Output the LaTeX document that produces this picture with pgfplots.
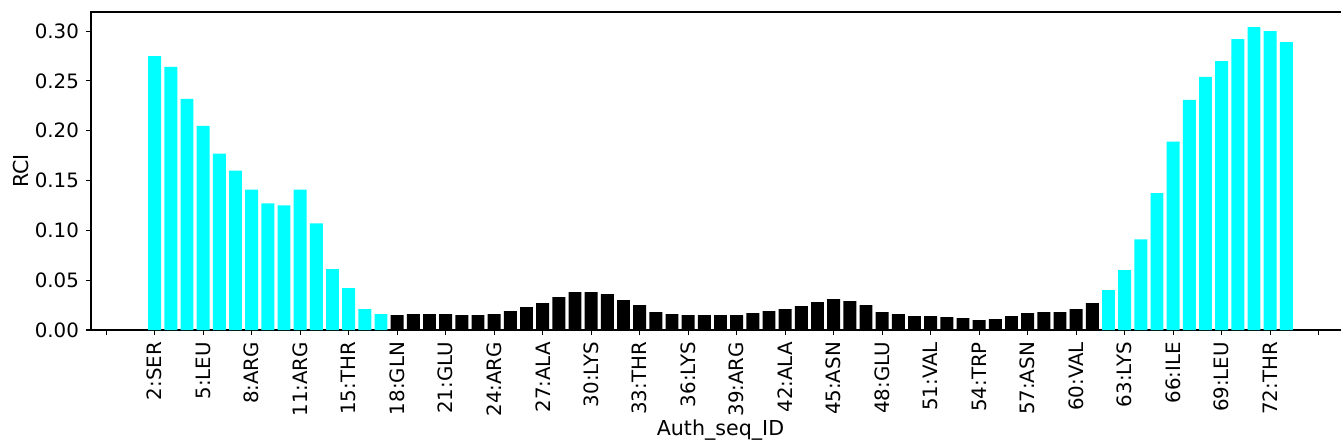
\documentclass[border=0pt]{standalone}
\usepackage{fontspec}
\setmainfont{DejaVu Sans}
\usepackage{pgfplots}
\pgfplotsset{compat=1.18}
\definecolor{aquacyan}{RGB}{0,255,255}
\begin{document}
\begin{tikzpicture}
\begin{axis}[
  at={(0,0)}, anchor=south west,
  scale only axis, width=629.5pt, height=159pt,
  xmin=-3.94, xmax=73.94, ymin=0, ymax=0.3192,
  ybar, bar width=0.8, bar shift=0pt,
  axis line style={line width=0.55pt, black},
  tick style={line width=0.55pt, black},
  tick align=outside, major tick length=2.5pt,
  xtick pos=bottom, ytick pos=left,
  xtick={-3,0,3,...,72},
  xticklabels={,2:SER,5:LEU,8:ARG,11:ARG,15:THR,18:GLN,21:GLU,24:ARG,27:ALA,30:LYS,33:THR,36:LYS,39:ARG,42:ALA,45:ASN,48:GLU,51:VAL,54:TRP,57:ASN,60:VAL,63:LYS,66:ILE,69:LEU,72:THR,},
  xticklabel style={rotate=90, anchor=east, font=\fontsize{9.9}{11}\selectfont},
  ytick={0,0.05,0.10,0.15,0.20,0.25,0.30},
  yticklabel style={font=\fontsize{9.9}{11}\selectfont, /pgf/number format/.cd, fixed, fixed zerofill, precision=2, assume math mode=true},
  scaled y ticks=false,
  xlabel={Auth\_seq\_ID}, ylabel={RCI},
  xlabel style={at={(axis description cs:0.5,-0.3333)}, anchor=base, font=\fontsize{10.3}{12}\selectfont},
  ylabel style={at={(axis description cs:-0.04926,0.5)}, anchor=base, rotate=0, font=\fontsize{10.3}{12}\selectfont},
]
\addplot[fill=aquacyan, draw=none, bar shift=0pt] coordinates {
(0,0.275) (1,0.264) (2,0.232) (3,0.205) (4,0.177) (5,0.160) (6,0.141) (7,0.127) (8,0.125) (9,0.141) (10,0.107) (11,0.061) (12,0.042) (13,0.021) (14,0.016)
(59,0.040) (60,0.060) (61,0.091) (62,0.1375) (63,0.189) (64,0.231) (65,0.254) (66,0.270) (67,0.292) (68,0.304) (69,0.300) (70,0.289)
};
\addplot[fill=black, draw=none, bar shift=0pt] coordinates {
(15,0.015) (16,0.016) (17,0.016) (18,0.016) (19,0.015) (20,0.015) (21,0.016) (22,0.019) (23,0.023) (24,0.027) (25,0.033) (26,0.038) (27,0.038) (28,0.036) (29,0.030) (30,0.025) (31,0.018) (32,0.016) (33,0.015) (34,0.015) (35,0.015) (36,0.015) (37,0.017) (38,0.019) (39,0.021) (40,0.024) (41,0.028) (42,0.031) (43,0.029) (44,0.025) (45,0.018) (46,0.016) (47,0.014) (48,0.014) (49,0.013) (50,0.012) (51,0.010) (52,0.011) (53,0.014) (54,0.017) (55,0.018) (56,0.018) (57,0.021) (58,0.027)
};
\end{axis}
\pgfresetboundingbox
\path (-45.5pt,-58.5pt) rectangle (625pt,165pt);
\end{tikzpicture}
\end{document}
